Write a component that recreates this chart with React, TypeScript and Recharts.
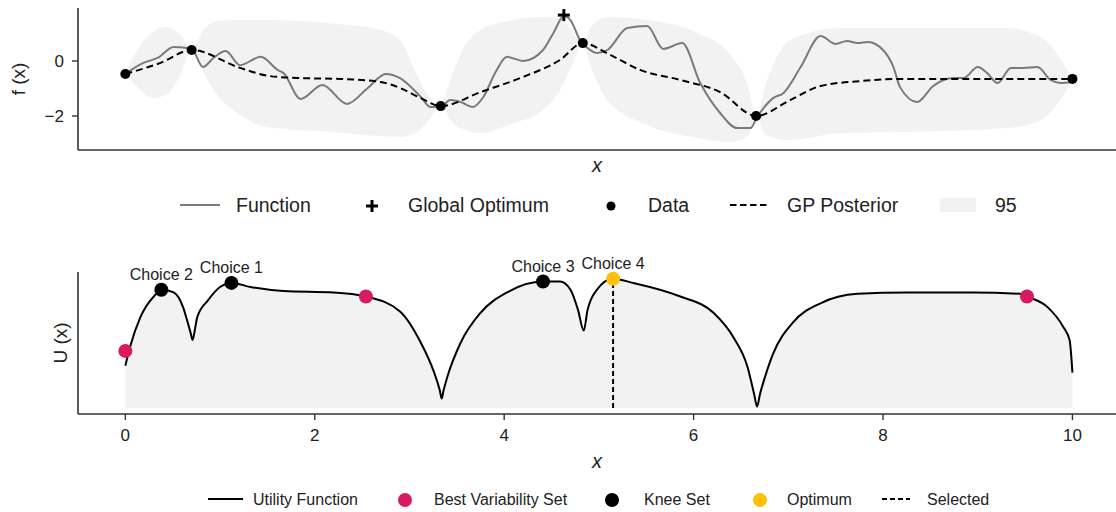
import React from 'react';
import {
  ComposedChart, Line, Area, Scatter, XAxis, YAxis,
} from 'recharts';

// ---------- Top panel data ----------
const funcX = [0, 0.19, 0.34, 0.51, 0.65, 0.71, 0.82, 0.93, 1.06, 1.21, 1.43, 1.61, 1.67, 1.85, 2.08, 2.34, 2.56, 2.75, 2.9, 3.12, 3.22, 3.33, 3.43, 3.54, 3.67, 3.78, 3.91, 4.03, 4.2, 4.41, 4.52, 4.63, 4.7, 4.8, 4.88, 4.98, 5.09, 5.3, 5.51, 5.68, 5.88, 6.07, 6.28, 6.46, 6.6, 6.67, 6.84, 6.95, 7.13, 7.34, 7.5, 7.62, 7.73, 7.84, 8.0, 8.11, 8.18, 8.36, 8.53, 8.74, 8.85, 9.0, 9.1, 9.21, 9.35, 9.48, 9.63, 9.77, 9.87, 10.0];
const funcY = [-0.47, -0.07, 0.11, 0.51, 0.47, 0.4, -0.22, 0.11, 0.36, -0.15, 0.15, -0.33, -0.44, -1.38, -0.87, -1.56, -0.98, -0.47, -0.62, -1.31, -1.67, -1.67, -1.42, -1.49, -1.67, -1.31, -0.4, 0.15, 0.0, 0.4, 1.02, 1.64, 1.49, 0.76, 0.47, 0.29, 0.4, 1.2, 1.27, 0.44, 0.65, -0.8, -1.89, -2.44, -2.44, -2.04, -1.35, -1.16, -0.22, 0.91, 0.62, 0.73, 0.65, 0.69, 0.4, -0.22, -0.95, -1.49, -0.91, -0.62, -0.62, -0.22, -0.44, -0.8, -0.25, -0.25, -0.22, -0.69, -0.8, -0.76];

const meanX = [0, 0.37, 0.7, 1.21, 1.53, 1.85, 2.27, 2.69, 2.9, 3.12, 3.33, 3.75, 4.17, 4.59, 4.83, 5.12, 5.44, 5.86, 6.28, 6.66, 7.02, 7.34, 7.76, 8.18, 9.24, 10.0];
const meanY = [-0.47, -0.07, 0.4, -0.25, -0.55, -0.62, -0.65, -0.76, -0.98, -1.35, -1.64, -1.13, -0.62, 0.04, 0.65, 0.22, -0.33, -0.69, -1.13, -2.0, -1.42, -0.91, -0.73, -0.65, -0.65, -0.65];

const bandX = [0, 0.16, 0.29, 0.43, 0.58, 0.7, 0.84, 0.97, 1.14, 1.5, 2.2, 2.69, 2.9, 3.04, 3.19, 3.33, 3.43, 3.59, 3.75, 4.1, 4.38, 4.59, 4.73, 4.83, 4.91, 5.09, 5.51, 6.04, 6.39, 6.57, 6.66, 6.76, 7.02, 7.55, 8.26, 9.31, 9.66, 9.87, 10.0];
const bandLo = [-0.47, -1.05, -1.35, -1.24, -0.51, 0.4, -0.51, -1.24, -1.78, -2.4, -2.58, -2.73, -2.76, -2.65, -2.22, -1.64, -2.15, -2.51, -2.62, -2.25, -1.85, -1.05, -0.04, 0.65, -0.15, -1.42, -2.33, -2.8, -2.95, -2.73, -2.0, -2.69, -2.87, -2.62, -2.58, -2.44, -2.15, -1.42, -0.65];
const bandHi = [-0.47, 0.58, 1.05, 1.24, 0.95, 0.4, 1.2, 1.45, 1.49, 1.49, 1.35, 1.13, 0.76, -0.22, -1.24, -1.64, -0.69, 0.58, 1.13, 1.49, 1.6, 1.56, 1.02, 0.65, 1.2, 1.6, 1.49, 1.02, 0.22, -0.87, -2.0, -0.87, 0.76, 1.2, 1.2, 1.2, 0.87, 0.11, -0.65];

const obsX = [0, 0.7, 3.33, 4.83, 6.66, 10.0];
const obsY = [-0.47, 0.4, -1.64, 0.65, -2.0, -0.65];

const optimumX = [4.63];
const optimumY = [1.67];

const topYTicks = [-2, 0];

// ---------- Bottom panel data ----------
const utilX = [0, 0.05, 0.16, 0.3, 0.39, 0.51, 0.61, 0.65, 0.69, 0.71, 0.73, 0.76, 0.87, 1.0, 1.12, 1.32, 1.67, 2.2, 2.54, 2.9, 3.12, 3.25, 3.32, 3.34, 3.36, 3.4, 3.54, 3.75, 4.03, 4.41, 4.59, 4.7, 4.78, 4.84, 4.88, 4.98, 5.15, 5.36, 5.86, 6.21, 6.42, 6.57, 6.64, 6.67, 6.7, 6.75, 6.84, 7.05, 7.34, 7.73, 8.26, 8.95, 9.45, 9.52, 9.74, 9.9, 9.97, 10.0];
const utilY = [0.31, 0.45, 0.67, 0.82, 0.87, 0.85, 0.74, 0.65, 0.55, 0.5, 0.56, 0.67, 0.79, 0.89, 0.92, 0.89, 0.86, 0.85, 0.82, 0.71, 0.48, 0.28, 0.13, 0.07, 0.13, 0.23, 0.48, 0.7, 0.85, 0.93, 0.93, 0.87, 0.72, 0.57, 0.72, 0.87, 0.95, 0.92, 0.82, 0.7, 0.52, 0.3, 0.1, 0.01, 0.1, 0.22, 0.4, 0.63, 0.77, 0.84, 0.85, 0.85, 0.84, 0.82, 0.74, 0.6, 0.5, 0.26];

const bestX = [0, 2.54, 9.52];
const bestY = [0.42, 0.82, 0.82];

const kneeX = [0.38, 1.12, 4.41];
const kneeY = [0.87, 0.92, 0.93];
const kneeLabels = ['Choice 2', 'Choice 1', 'Choice 3'];

const optX = [5.15];
const optY = [0.95];
const optLabels = ['Choice 4'];

const bottomXTicks = [0, 2, 4, 6, 8, 10];

// ---------- tables ----------
const funcData = funcX.map((x, i) => ({ x, y: funcY[i] }));
const meanData = meanX.map((x, i) => ({ x, y: meanY[i] }));
const bandData = bandX.map((x, i) => ({ x, band: [bandLo[i], bandHi[i]] }));
const obsData = obsX.map((x, i) => ({ x, y: obsY[i] }));
const optimumData = optimumX.map((x, i) => ({ x, y: optimumY[i] }));

const utilData = utilX.map((x, i) => ({ x, u: utilY[i] }));
const bestData = bestX.map((x, i) => ({ x, u: bestY[i] }));
const kneeData = kneeX.map((x, i) => ({ x, u: kneeY[i], label: kneeLabels[i] }));
const optData = optX.map((x, i) => ({ x, u: optY[i], label: optLabels[i] }));
const selectedData = [{ x: optX[0], u: 0 }, { x: optX[0], u: optY[0] }];

const FONT = '"Liberation Sans", Arial, sans-serif';
const TEXT = '#222';
const AXIS = '#333';
const FILL = '#f2f2f2';
const GRAY = '#7a7a7a';
const PINK = '#d81b60';
const YELLOW = '#ffc107';

const fmtMinus = (v: number) => (v < 0 ? '\u2212' + Math.abs(v) : String(v));

const yLabel = (text: string, cx: number) => (props: any) => {
  const vb = props.viewBox || { y: 0, height: 0 };
  const cy = vb.y + vb.height / 2;
  return (
    <text x={cx} y={cy} transform={`rotate(-90 ${cx} ${cy})`} textAnchor="middle"
      dominantBaseline="central" fontSize={19} fill={TEXT} fontFamily={FONT}>{text}</text>
  );
};

const xLabel = (dy: number) => (props: any) => {
  const vb = props.viewBox || { x: 0, y: 0, width: 0 };
  return (
    <text x={vb.x + vb.width / 2} y={vb.y + dy} textAnchor="middle" fontSize={20}
      fontStyle="italic" fill={TEXT} fontFamily={FONT}>x</text>
  );
};

const dotShape = (r: number, color: string) => (props: any) => (
  <circle cx={props.cx} cy={props.cy} r={r} fill={color} />
);

const plusShape = (props: any) => {
  const { cx, cy } = props;
  return (
    <g stroke="#000" strokeWidth={3}>
      <line x1={cx - 6} y1={cy} x2={cx + 6} y2={cy} />
      <line x1={cx} y1={cy - 6} x2={cx} y2={cy + 6} />
    </g>
  );
};

const labeledDot = (color: string) => (props: any) => {
  const { cx, cy, payload } = props;
  return (
    <g>
      <circle cx={cx} cy={cy} r={7} fill={color} />
      <text x={cx} y={cy - 10} textAnchor="middle" fontSize={16} fill={TEXT} fontFamily={FONT}>
        {payload.label}
      </text>
    </g>
  );
};

export default function App() {
  const TOP_H = 185;
  const BOT_TOP = 250;
  const BOT_H = 230;
  return (
    <div style={{ position: 'absolute', left: 0, top: 0, width: 1116, height: 512, background: '#fff', fontFamily: FONT }}>
      <div style={{ position: 'absolute', left: 0, top: 0 }}>
        <ComposedChart width={1116} height={TOP_H} margin={{ top: 8, right: 0, bottom: 0, left: 0 }}>
          <XAxis dataKey="x" type="number" domain={[-0.5, 10.46]}
            tick={false} tickLine={false} height={TOP_H - 8 - 142}
            axisLine={{ stroke: AXIS, strokeWidth: 1.6 }} label={{ content: xLabel(22) }} />
          <YAxis type="number" domain={[-3.236, 1.927]} ticks={topYTicks}
            tickFormatter={fmtMinus} width={78} tickSize={6} tickMargin={8}
            tick={{ fontSize: 17, fill: TEXT, fontFamily: FONT }}
            tickLine={{ stroke: AXIS, strokeWidth: 1.4 }}
            axisLine={{ stroke: AXIS, strokeWidth: 1.6 }} label={{ content: yLabel('f (x)', 18) }} />
          <Area data={bandData} dataKey="band" type="monotone" fill={FILL} fillOpacity={1}
            stroke="none" isAnimationActive={false} activeDot={false} dot={false} />
          <Line data={funcData} dataKey="y" type="monotone" stroke={GRAY} strokeWidth={2}
            dot={false} activeDot={false} isAnimationActive={false} />
          <Line data={meanData} dataKey="y" type="monotone" stroke="#000" strokeWidth={2}
            strokeDasharray="7 4" dot={false} activeDot={false} isAnimationActive={false} />
          <Scatter data={obsData} dataKey="y" shape={dotShape(5, '#000')} isAnimationActive={false} />
          <Scatter data={optimumData} dataKey="y" shape={plusShape} isAnimationActive={false} />
        </ComposedChart>
      </div>
      <div style={{ position: 'absolute', left: 0, top: BOT_TOP }}>
        <ComposedChart width={1116} height={BOT_H} margin={{ top: 22, right: 0, bottom: 0, left: 0 }}>
          <XAxis dataKey="x" type="number" domain={[-0.5, 10.46]}
            ticks={bottomXTicks} tickSize={6} tickMargin={9} height={66}
            tick={{ fontSize: 17, fill: TEXT, fontFamily: FONT }}
            tickLine={{ stroke: AXIS, strokeWidth: 1.4 }}
            axisLine={{ stroke: AXIS, strokeWidth: 1.6 }} label={{ content: xLabel(54) }} />
          <YAxis type="number" domain={[-0.044, 1]} tick={false} tickLine={false}
            width={78} axisLine={{ stroke: AXIS, strokeWidth: 1.6 }}
            label={{ content: yLabel('U (x)', 60) }} />
          <Area data={utilData} dataKey="u" type="monotone" baseValue={0} fill={FILL} fillOpacity={1}
            stroke="#000" strokeWidth={2} isAnimationActive={false} activeDot={false} dot={false} />
          <Line data={selectedData} dataKey="u" type="linear" stroke="#000" strokeWidth={2}
            strokeDasharray="5 3" dot={false} activeDot={false} isAnimationActive={false} />
          <Scatter data={bestData} dataKey="u" shape={dotShape(7, PINK)} isAnimationActive={false} />
          <Scatter data={kneeData} dataKey="u" shape={labeledDot('#000')} isAnimationActive={false} />
          <Scatter data={optData} dataKey="u" shape={labeledDot(YELLOW)} isAnimationActive={false} />
        </ComposedChart>
      </div>
      <svg width={1116} height={512} style={{ position: 'absolute', left: 0, top: 0, pointerEvents: 'none' }}
        fontFamily={FONT} fill={TEXT}>
        {/* top legend */}
        <g fontSize={19.5}>
          <line x1={180} y1={205} x2={220} y2={205} stroke={GRAY} strokeWidth={2} />
          <text x={236} y={205} dominantBaseline="central">Function</text>
          <g stroke="#000" strokeWidth={3}>
            <line x1={366} y1={206} x2={378} y2={206} />
            <line x1={372} y1={200} x2={372} y2={212} />
          </g>
          <text x={408} y={205} dominantBaseline="central">Global Optimum</text>
          <circle cx={611} cy={206} r={4.5} fill="#000" />
          <text x={648} y={205} dominantBaseline="central">Data</text>
          <line x1={730} y1={205} x2={768} y2={205} stroke="#000" strokeWidth={2} strokeDasharray="6.5 3.5" />
          <text x={787} y={205} dominantBaseline="central">GP Posterior</text>
          <rect x={940} y={198} width={36} height={14} fill={FILL} />
          <text x={995} y={205} dominantBaseline="central">95</text>
        </g>
        {/* bottom legend */}
        <g fontSize={16}>
          <line x1={208} y1={499} x2={243} y2={499} stroke="#000" strokeWidth={2} />
          <text x={253} y={499} dominantBaseline="central">Utility Function</text>
          <circle cx={405} cy={500} r={7} fill={PINK} />
          <text x={434} y={499} dominantBaseline="central">Best Variability Set</text>
          <circle cx={612} cy={500} r={7} fill="#000" />
          <text x={644} y={499} dominantBaseline="central">Knee Set</text>
          <circle cx={760} cy={500} r={7} fill={YELLOW} />
          <text x={787} y={499} dominantBaseline="central">Optimum</text>
          <line x1={882} y1={499} x2={910} y2={499} stroke="#000" strokeWidth={2} strokeDasharray="5 3" />
          <text x={927} y={499} dominantBaseline="central">Selected</text>
        </g>
      </svg>
    </div>
  );
}
